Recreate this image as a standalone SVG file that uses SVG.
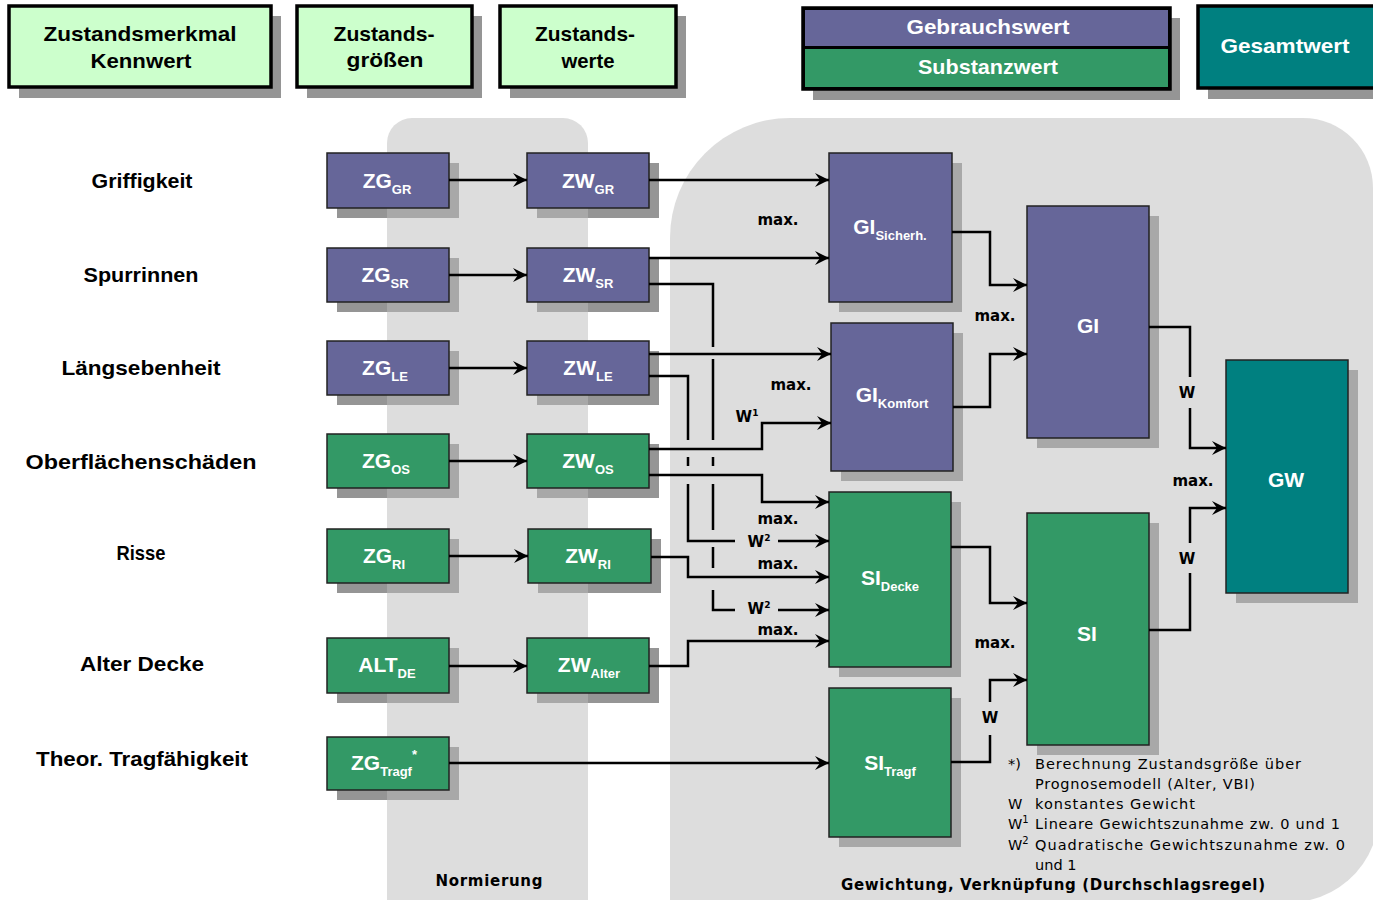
<svg xmlns="http://www.w3.org/2000/svg" width="1373" height="900" viewBox="0 0 1373 900">
<defs>
<marker id="ah" markerUnits="userSpaceOnUse" markerWidth="16" markerHeight="16" refX="14" refY="8" orient="auto">
<path d="M0,1 L14,8 L0,15 L5,8 z" fill="#000"/>
</marker>
<style>
.hdr{stroke:#000;stroke-width:3.5}
.lg{fill:#ccffcc}
.pu{fill:#666699;stroke:#222;stroke-width:1.5}
.gr{fill:#339966;stroke:#222;stroke-width:1.5}
.te{fill:#008080;stroke:#222;stroke-width:1.5}
.sh{fill:#959595}
.ht{font-family:"Liberation Sans",Arial,sans-serif;font-weight:bold;font-size:21px;text-anchor:middle}
.lbl{font-family:"Liberation Sans",Arial,sans-serif;font-weight:bold;font-size:21px;text-anchor:middle;fill:#000}
.bx{font-family:"Liberation Sans",Arial,sans-serif;font-weight:bold;font-size:21px;text-anchor:middle;fill:#fff}
.sub{font-size:13px}
.mx{font-family:"DejaVu Sans",Verdana,sans-serif;font-weight:bold;font-size:15px;text-anchor:middle;fill:#000}
.fn{font-family:"DejaVu Sans",Verdana,sans-serif;font-size:14.5px;fill:#000}
.ln{fill:none;stroke:#000;stroke-width:2.5}
.ar{fill:none;stroke:#000;stroke-width:2.5;marker-end:url(#ah)}
</style>
</defs>
<rect width="1373" height="900" fill="#fff"/>

<!-- shadows -->
<g id="shadows" class="sh">
<rect x="19" y="16" width="262" height="82"/>
<rect x="307" y="16" width="175" height="82"/>
<rect x="510" y="16" width="176" height="82"/>
<rect x="813" y="18" width="367" height="82"/>
<rect x="1208" y="16" width="175" height="83"/>
<rect x="337" y="163" width="122" height="55"/>
<rect x="337" y="258" width="122" height="54"/>
<rect x="337" y="351" width="122" height="54"/>
<rect x="337" y="444" width="122" height="54"/>
<rect x="337" y="539" width="122" height="54"/>
<rect x="337" y="648" width="122" height="55"/>
<rect x="337" y="747" width="122" height="53"/>
<rect x="537" y="163" width="122" height="55"/>
<rect x="537" y="258" width="122" height="54"/>
<rect x="537" y="351" width="122" height="54"/>
<rect x="537" y="444" width="122" height="54"/>
<rect x="538" y="539" width="123" height="54"/>
<rect x="537" y="648" width="122" height="55"/>
<rect x="839" y="163" width="123" height="149"/>
<rect x="841" y="333" width="122" height="148"/>
<rect x="839" y="502" width="122" height="175"/>
<rect x="839" y="698" width="122" height="149"/>
<rect x="1037" y="216" width="122" height="232"/>
<rect x="1037" y="523" width="122" height="232"/>
<rect x="1236" y="370" width="122" height="233"/>
</g>

<!-- background regions -->
<g id="regions" fill="#bbbbbb" fill-opacity="0.5">
<rect x="387" y="118" width="201" height="810" rx="25"/>
<path d="M670,900 V238 A120,120 0 0 1 790,118 H1303 A70,70 0 0 1 1373,188 V845 A90,90 0 0 1 1310,900 Z"/>
</g>

<!-- header boxes -->
<g id="h-kennwert"><rect x="9" y="6" width="262" height="81" class="hdr lg"/>
<text class="ht" x="140" y="41" textLength="193" lengthAdjust="spacingAndGlyphs">Zustandsmerkmal</text>
<text class="ht" x="141" y="68" textLength="101" lengthAdjust="spacingAndGlyphs">Kennwert</text></g>
<g id="h-groessen"><rect x="297" y="6" width="175" height="81" class="hdr lg"/>
<text class="ht" x="384" y="41" textLength="101" lengthAdjust="spacingAndGlyphs">Zustands-</text>
<text class="ht" x="385" y="67" textLength="77" lengthAdjust="spacingAndGlyphs">größen</text></g>
<g id="h-werte"><rect x="500" y="6" width="176" height="81" class="hdr lg"/>
<text class="ht" x="585" y="41" textLength="100" lengthAdjust="spacingAndGlyphs">Zustands-</text>
<text class="ht" x="588" y="68" textLength="53" lengthAdjust="spacingAndGlyphs">werte</text></g>
<g id="h-gebrauch-substanz">
<rect x="803" y="8" width="367" height="81" class="hdr" fill="#000"/>
<rect x="805" y="10" width="363" height="36" fill="#666699"/>
<rect x="805" y="49" width="363" height="38" fill="#339966"/>
<text class="ht" x="988" y="34" fill="#fff" textLength="163" lengthAdjust="spacingAndGlyphs">Gebrauchswert</text>
<text class="ht" x="988" y="74" fill="#fff" textLength="140" lengthAdjust="spacingAndGlyphs">Substanzwert</text></g>
<g id="h-gesamt"><rect x="1198" y="6" width="180" height="82" class="hdr" fill="#008080"/>
<text class="ht" x="1285" y="53" fill="#fff" textLength="129" lengthAdjust="spacingAndGlyphs">Gesamtwert</text></g>

<!-- row labels -->
<g id="row-labels">
<text class="lbl" x="142" y="188" textLength="101" lengthAdjust="spacingAndGlyphs">Griffigkeit</text>
<text class="lbl" x="141" y="282" textLength="115" lengthAdjust="spacingAndGlyphs">Spurrinnen</text>
<text class="lbl" x="141" y="375" textLength="159" lengthAdjust="spacingAndGlyphs">Längsebenheit</text>
<text class="lbl" x="141" y="469" textLength="231" lengthAdjust="spacingAndGlyphs">Oberflächenschäden</text>
<text class="lbl" x="141" y="560" textLength="49" lengthAdjust="spacingAndGlyphs">Risse</text>
<text class="lbl" x="142" y="671" textLength="124" lengthAdjust="spacingAndGlyphs">Alter Decke</text>
<text class="lbl" x="142" y="766" textLength="212" lengthAdjust="spacingAndGlyphs">Theor. Tragfähigkeit</text>
</g>

<!-- ZG nodes -->
<g id="zg-gr"><rect x="327" y="153" width="122" height="55" class="pu"/><text class="bx" x="387" y="188">ZG<tspan class="sub" dy="6">GR</tspan></text></g>
<g id="zg-sr"><rect x="327" y="248" width="122" height="54" class="pu"/><text class="bx" x="385" y="282">ZG<tspan class="sub" dy="6">SR</tspan></text></g>
<g id="zg-le"><rect x="327" y="341" width="122" height="54" class="pu"/><text class="bx" x="385" y="375">ZG<tspan class="sub" dy="6">LE</tspan></text></g>
<g id="zg-os"><rect x="327" y="434" width="122" height="54" class="gr"/><text class="bx" x="386" y="468">ZG<tspan class="sub" dy="6">OS</tspan></text></g>
<g id="zg-ri"><rect x="327" y="529" width="122" height="54" class="gr"/><text class="bx" x="384" y="563">ZG<tspan class="sub" dy="6">RI</tspan></text></g>
<g id="alt-de"><rect x="327" y="638" width="122" height="55" class="gr"/><text class="bx" x="387" y="672">ALT<tspan class="sub" dy="6">DE</tspan></text></g>
<g id="zg-tragf"><rect x="327" y="737" width="122" height="53" class="gr"/><text class="bx" x="384" y="770">ZG<tspan class="sub" dy="6">Tragf</tspan><tspan class="sub" dy="-17" font-size="10">*</tspan></text></g>

<!-- ZW nodes -->
<g id="zw-gr"><rect x="527" y="153" width="122" height="55" class="pu"/><text class="bx" x="588" y="188">ZW<tspan class="sub" dy="6">GR</tspan></text></g>
<g id="zw-sr"><rect x="527" y="248" width="122" height="54" class="pu"/><text class="bx" x="588" y="282">ZW<tspan class="sub" dy="6">SR</tspan></text></g>
<g id="zw-le"><rect x="527" y="341" width="122" height="54" class="pu"/><text class="bx" x="588" y="375">ZW<tspan class="sub" dy="6">LE</tspan></text></g>
<g id="zw-os"><rect x="527" y="434" width="122" height="54" class="gr"/><text class="bx" x="588" y="468">ZW<tspan class="sub" dy="6">OS</tspan></text></g>
<g id="zw-ri"><rect x="528" y="529" width="123" height="54" class="gr"/><text class="bx" x="588" y="563">ZW<tspan class="sub" dy="6">RI</tspan></text></g>
<g id="zw-alter"><rect x="527" y="638" width="122" height="55" class="gr"/><text class="bx" x="589" y="672">ZW<tspan class="sub" dy="6">Alter</tspan></text></g>

<!-- GI / SI nodes -->
<g id="gi-sicherh"><rect x="829" y="153" width="123" height="149" class="pu"/><text class="bx" x="890" y="234" font-weight="normal" font-size="20">GI<tspan class="sub" dy="6" font-weight="bold" font-size="14">Sicherh.</tspan></text></g>
<g id="gi-komfort"><rect x="831" y="323" width="122" height="148" class="pu"/><text class="bx" x="892" y="402" font-weight="normal" font-size="20">GI<tspan class="sub" dy="6" font-weight="bold" font-size="14">Komfort</tspan></text></g>
<g id="si-decke"><rect x="829" y="492" width="122" height="175" class="gr"/><text class="bx" x="890" y="585" font-weight="normal" font-size="20">SI<tspan class="sub" dy="6" font-size="15">Decke</tspan></text></g>
<g id="si-tragf"><rect x="829" y="688" width="122" height="149" class="gr"/><text class="bx" x="890" y="770" font-weight="normal" font-size="20">SI<tspan class="sub" dy="6" font-size="14">Tragf</tspan></text></g>
<g id="gi"><rect x="1027" y="206" width="122" height="232" class="pu"/><text class="bx" x="1088" y="333" font-size="27">GI</text></g>
<g id="si"><rect x="1027" y="513" width="122" height="232" class="gr"/><text class="bx" x="1087" y="641" font-size="27">SI</text></g>
<g id="gw"><rect x="1226" y="360" width="122" height="233" class="te"/><text class="bx" x="1286" y="487" font-size="27">GW</text></g>

<!-- connectors -->
<g id="connectors">
<path class="ar" d="M449,180 H527"/>
<path class="ar" d="M449,275 H527"/>
<path class="ar" d="M449,368 H527"/>
<path class="ar" d="M449,461 H527"/>
<path class="ar" d="M449,556 H528"/>
<path class="ar" d="M449,666 H527"/>
<path class="ar" d="M449,763 H829"/>
<path class="ar" d="M649,180 H829"/>
<path class="ar" d="M649,258 H829"/>
<path class="ln" d="M649,284 H713 V347 M713,359 V440 M713,457 V466 M713,484 V530 M713,547 V568 M713,590 V610 H735"/>
<path class="ar" d="M778,610 H829"/>
<path class="ar" d="M649,354 H831"/>
<path class="ln" d="M649,376 H688 V440 M688,457 V466 M688,484 V541 H735"/>
<path class="ar" d="M778,541 H829"/>
<path class="ar" d="M649,449 H762 V423 H831"/>
<path class="ar" d="M649,475 H762 V502 H829"/>
<path class="ar" d="M651,557 H688 V577 H829"/>
<path class="ar" d="M649,666 H688 V641 H829"/>
<path class="ar" d="M952,232 H990 V285 H1027"/>
<path class="ar" d="M953,407 H990 V354 H1027"/>
<path class="ar" d="M951,547 H990 V603 H1027"/>
<path class="ln" d="M951,762 H990 V735"/>
<path class="ar" d="M990,702 V680 H1027"/>
<path class="ln" d="M1149,327 H1190 V377"/>
<path class="ar" d="M1190,408 V448 H1226"/>
<path class="ln" d="M1149,630 H1190 V573"/>
<path class="ar" d="M1190,543 V508 H1226"/>
</g>

<!-- connector labels -->
<g id="connector-labels">
<text class="mx" x="778" y="225">max.</text>
<text class="mx" x="791" y="390">max.</text>
<text class="mx" x="778" y="524">max.</text>
<text class="mx" x="778" y="569">max.</text>
<text class="mx" x="778" y="635">max.</text>
<text class="mx" x="995" y="321">max.</text>
<text class="mx" x="995" y="648">max.</text>
<text class="mx" x="1193" y="486">max.</text>
<text class="mx" x="747" y="422" font-size="14">W<tspan font-size="9" dy="-6">1</tspan></text>
<text class="mx" x="759" y="547" font-size="14">W<tspan font-size="9" dy="-6">2</tspan></text>
<text class="mx" x="759" y="614" font-size="14">W<tspan font-size="9" dy="-6">2</tspan></text>
<text class="mx" x="1187" y="398" font-size="14">W</text>
<text class="mx" x="1187" y="564" font-size="14">W</text>
<text class="mx" x="990" y="723" font-size="14">W</text>
</g>

<!-- footnotes and region titles -->
<g id="notes">
<text class="fn" x="1008" y="769">*)</text>
<text class="fn" x="1035" y="769" textLength="266" lengthAdjust="spacing">Berechnung Zustandsgröße über</text>
<text class="fn" x="1035" y="789" textLength="220" lengthAdjust="spacing">Prognosemodell (Alter, VBI)</text>
<text class="fn" x="1008" y="809">W</text>
<text class="fn" x="1035" y="809" textLength="160" lengthAdjust="spacing">konstantes Gewicht</text>
<text class="fn" x="1008" y="829">W<tspan font-size="10" dy="-6">1</tspan></text>
<text class="fn" x="1035" y="829" textLength="305" lengthAdjust="spacing">Lineare Gewichtszunahme zw. 0 und 1</text>
<text class="fn" x="1008" y="850">W<tspan font-size="10" dy="-6">2</tspan></text>
<text class="fn" x="1035" y="850" textLength="310" lengthAdjust="spacing">Quadratische Gewichtszunahme zw. 0</text>
<text class="fn" x="1035" y="870">und 1</text>
<text class="mx" x="489" y="886" textLength="107" lengthAdjust="spacing">Normierung</text>
<text class="mx" x="1053" y="890" textLength="424" lengthAdjust="spacing">Gewichtung, Verknüpfung (Durchschlagsregel)</text>
</g>
</svg>
